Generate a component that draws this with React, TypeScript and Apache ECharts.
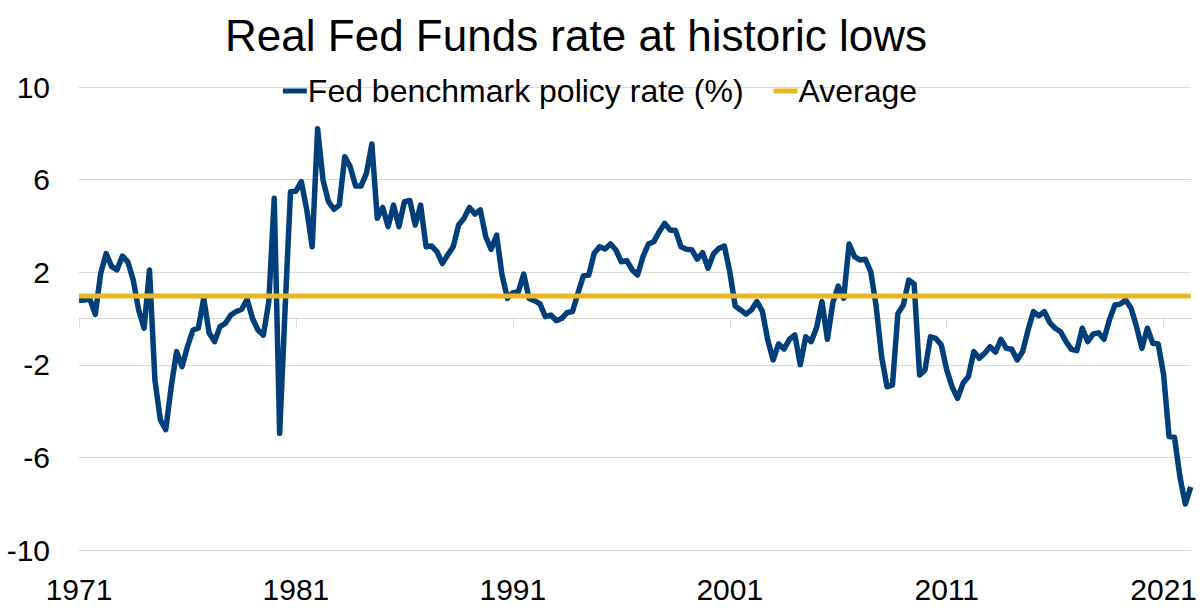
import React, { useEffect, useRef } from "react";
import * as echarts from "echarts";

const startYear = 1971;
// Real Fed funds rate (%), quarterly from 1971 Q1
const fedRate = [
  0.78, 0.8, 0.85, 0.18, 1.95, 2.8, 2.25, 2.1, 2.7, 2.45,
  1.66, 0.37, -0.42, 2.1, -2.66, -4.38, -4.8, -2.95, -1.43, -2.08,
  -1.22, -0.5, -0.42, 0.87, -0.63, -1.0, -0.35, -0.21, 0.15, 0.3,
  0.4, 0.83, 0.0, -0.5, -0.72, 0.73, 5.19, -4.96, 0.4, 5.48,
  5.5, 5.91, 4.69, 3.1, 8.2, 5.98, 5.05, 4.72, 4.9, 6.99,
  6.56, 5.72, 5.72, 6.27, 7.54, 4.33, 4.8, 3.97, 4.9, 3.97,
  5.05, 5.1, 4.04, 4.9, 3.1, 3.13, 2.89, 2.38, 2.75, 3.1,
  4.04, 4.33, 4.8, 4.51, 4.69, 3.53, 2.99, 3.6, 1.88, 0.87,
  1.11, 1.15, 1.92, 0.87, 0.77, 0.63, 0.08, 0.15, -0.09, 0.0,
  0.25, 0.3, 1.09, 1.84, 1.88, 2.82, 3.1, 3.0, 3.22, 2.96,
  2.45, 2.5, 2.1, 1.88, 2.67, 3.22, 3.32, 3.75, 4.11, 3.82,
  3.8, 3.1, 2.99, 2.97, 2.56, 2.84, 2.17, 2.8, 3.03, 3.13,
  2.02, 0.54, 0.37, 0.19, 0.37, 0.73, 0.32, -0.93, -1.79, -1.1,
  -1.32, -0.9, -0.71, -2.0, -0.79, -1.0, -0.4, 0.73, -0.9, 0.68,
  1.4, 0.87, 3.22, 2.67, 2.53, 2.56, 2.02, 0.51, -1.65, -2.95,
  -2.87, 0.22, 0.58, 1.66, 1.49, -2.44, -2.22, -0.79, -0.86, -1.14,
  -2.22, -2.95, -3.45, -2.8, -2.51, -1.43, -1.72, -1.5, -1.22, -1.45,
  -0.9, -1.29, -1.33, -1.79, -1.43, -0.5, 0.3, 0.11, 0.3, -0.18,
  -0.42, -0.57, -1.0, -1.33, -1.39, -0.42, -1.0, -0.67, -0.62, -0.9,
  -0.06, 0.58, 0.62, 0.8, 0.44, -0.35, -1.29, -0.42, -1.07, -1.1,
  -2.44, -5.1, -5.13, -6.83, -8.01, -7.27,
];
const averageRate = 0.97;

const quarterLabels = fedRate.map(
  (_, i) => `${startYear + Math.floor(i / 4)} Q${(i % 4) + 1}`
);
const averageSeries = quarterLabels.map(() => averageRate);

const yMin = -10;
const yMax = 10;
const yInterval = 4;
const labelEvery = 40; // 10 years of quarters

const FONT = '"Liberation Sans", Arial, Helvetica, sans-serif';
const NAVY = "#003f7a";
const GOLD = "#e8b824";
const GRID = "#d9d9d9";

export default function App() {
  const ref = useRef<HTMLDivElement>(null);

  useEffect(() => {
    if (!ref.current) return;
    const chart = echarts.init(ref.current, undefined, { renderer: "svg" });
    const showIdx = (index: number) => index % labelEvery === 0;
    chart.setOption({
      animation: false,
      backgroundColor: "#ffffff",
      title: {
        text: "Real Fed Funds rate at historic lows",
        left: 571,
        top: 8,
        textAlign: "center",
        textStyle: {
          fontFamily: FONT,
          fontSize: 44,
          fontWeight: "normal",
          color: "#000000",
        },
      },
      legend: {
        top: 70,
        left: "center",
        itemWidth: 24,
        itemHeight: 5,
        itemGap: 30,
        textStyle: {
          fontFamily: FONT,
          fontSize: 32,
          color: "#000000",
          padding: [0, 0, 0, -4],
        },
        data: [
          { name: "Fed benchmark policy rate (%)", icon: "rect" },
          { name: "Average", icon: "rect" },
        ],
      },
      grid: {
        left: 79,
        right: 8,
        top: 87,
        bottom: 60,
        containLabel: false,
      },
      xAxis: [
        {
          type: "category",
          data: quarterLabels,
          boundaryGap: false,
          position: "bottom",
          axisLine: { show: false, onZero: false },
          axisTick: { show: false },
          splitLine: { show: false },
          axisLabel: {
            interval: showIdx,
            formatter: (v: string) => v.slice(0, 4),
            fontFamily: FONT,
            fontSize: 30,
            color: "#000000",
            margin: 24,
          },
        },
        {
          type: "category",
          data: quarterLabels,
          boundaryGap: false,
          position: "bottom",
          axisLine: { show: true, onZero: true, lineStyle: { color: GRID, width: 1 } },
          axisTick: { show: true, interval: showIdx, length: 9, lineStyle: { color: GRID } },
          axisLabel: { show: false },
          splitLine: { show: false },
        },
      ],
      yAxis: {
        type: "value",
        min: yMin,
        max: yMax,
        interval: yInterval,
        axisLine: { show: false },
        axisTick: { show: false },
        splitLine: { show: true, lineStyle: { color: GRID, width: 1 } },
        axisLabel: {
          fontFamily: FONT,
          fontSize: 30,
          color: "#000000",
          margin: 29,
        },
      },
      series: [
        {
          name: "Fed benchmark policy rate (%)",
          type: "line",
          xAxisIndex: 0,
          data: fedRate,
          showSymbol: false,
          symbol: "none",
          lineStyle: { color: NAVY, width: 5.5, join: "round" },
          itemStyle: { color: NAVY },
        },
        {
          name: "Average",
          type: "line",
          xAxisIndex: 0,
          data: averageSeries,
          showSymbol: false,
          symbol: "none",
          lineStyle: { color: GOLD, width: 5 },
          itemStyle: { color: GOLD },
        },
      ],
    });
    return () => chart.dispose();
  }, []);

  return (
    <div
      ref={ref}
      style={{ position: "fixed", left: 0, top: 0, width: 1200, height: 610 }}
    />
  );
}
